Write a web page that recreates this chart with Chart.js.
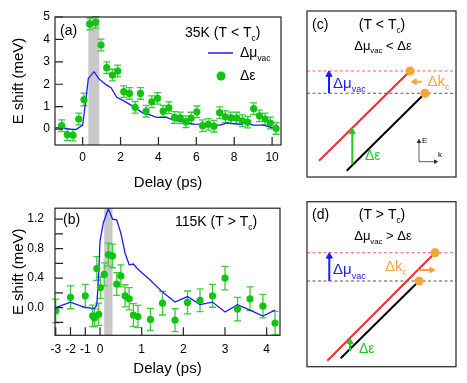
<!DOCTYPE html>
<html>
<head>
<meta charset="utf-8">
<title>E shift vs delay</title>
<script src="https://cdn.jsdelivr.net/npm/chart.js@4.4.1/dist/chart.umd.min.js"></script>
<style>
  body { margin: 0; background: #fff; }
  .panel { position: absolute; }
</style>
</head>
<body>
<div class="panel" style="left:0;top:0;width:300px;height:190px"><canvas id="chartA"></canvas></div>
<div class="panel" style="left:0;top:190px;width:300px;height:193px"><canvas id="chartB"></canvas></div>
<div class="panel" style="left:300px;top:0;width:167px;height:190px"><canvas id="chartC"></canvas></div>
<div class="panel" style="left:300px;top:190px;width:167px;height:193px"><canvas id="chartD"></canvas></div>
<script>
// (a) 35K, T < Tc
var delayA = [-1.11, -0.81, -0.51, -0.21, 0.07, 0.37, 0.69, 0.97, 1.27, 1.57, 1.85, 2.17, 2.47, 2.77,
              3.05, 3.35, 3.65, 3.95, 4.25, 4.55, 4.85, 5.15, 5.45, 5.73, 6.03, 6.33, 6.63, 6.93,
              7.23, 7.53, 7.83, 8.13, 8.43, 8.71, 9.03, 9.33, 9.63, 9.91, 10.21];
var shiftA = [0.15, -0.25, -0.27, 0.45, 1.32, 4.69, 4.76, 3.75, 2.74, 2.41, 2.59, 1.67, 1.59, 0.97,
              1.59, 0.80, 1.22, 1.37, 0.80, 0.95, 0.52, 0.50, 0.33, 0.49, 0.77, 0.15, 0.21, 0.13,
              0.73, 0.55, 0.50, 0.49, 0.37, 0.31, 0.91, 0.59, 0.45, 0.27, 0.03];
var errA = [0.26, 0.26, 0.26, 0.26, 0.28, 0.26, 0.26, 0.26, 0.26, 0.26, 0.26, 0.26, 0.26, 0.26,
            0.26, 0.26, 0.26, 0.26, 0.26, 0.26, 0.26, 0.26, 0.26, 0.26, 0.26, 0.26, 0.26, 0.26,
            0.26, 0.26, 0.26, 0.26, 0.26, 0.26, 0.26, 0.26, 0.26, 0.26, 0.26];
var muDelayA = [-1.45, -1.1, -0.7, -0.35, 0.0, 0.17, 0.3, 0.6, 0.88, 1.27, 1.5, 1.8, 2.15, 2.68, 3.2,
                3.56, 3.9, 4.44, 4.79, 5.0, 5.5, 5.8, 6.38, 7.0, 7.26, 7.62, 8.32, 8.67, 9.0, 9.55, 10.0, 10.27];
var muA = [0.05, 0.07, 0.0, -0.02, 0.18, 1.3, 2.26, 2.56, 2.22, 1.96, 1.85, 1.42, 1.27, 1.0, 0.7,
           0.63, 0.52, 0.52, 0.4, 0.37, 0.3, 0.22, 0.21, 0.18, 0.18, 0.28, 0.21, 0.28, 0.18, 0.18, 0.06, 0.18];
var pumpA = [0.3, 0.88];
var ticksXA = [0, 2, 4, 6, 8, 10];
var ticksYA = [0, 1, 2, 3, 4, 5];

// (b) 115K, T > Tc
var delayB = [-3.0, -2.0, -1.0, -0.5, -0.38, -0.22, -0.09, 0.01, 0.1, 0.2, 0.3, 0.4, 0.5, 0.6, 0.7,
              0.8, 0.91, 1.21, 1.5, 1.8, 2.1, 2.4, 2.7, 3.0, 3.3, 3.6, 3.91, 4.2];
var shiftB = [-0.045, 0.14, 0.16, -0.11, -0.14, 0.53, -0.09, 0.27, 0.45, 0.72, 0.70, 0.32, 0.43, 0.16, 0.12,
              -0.10, -0.12, -0.16, 0.06, -0.17, 0.07, 0.10, 0.16, 0.40, -0.02, 0.12, 0.02, -0.21];
var errB = [0.16, 0.155, 0.155, 0.145, 0.12, 0.16, 0.15, 0.145, 0.155, 0.155, 0.16, 0.155, 0.15, 0.15, 0.15,
            0.155, 0.15, 0.15, 0.16, 0.155, 0.155, 0.155, 0.155, 0.16, 0.16, 0.16, 0.16, 0.16];
var muDelayB = [-3.0, -2.0, -1.0, -0.38, -0.22, -0.09, 0.0, 0.08, 0.2, 0.3, 0.4, 0.5, 0.6, 0.7, 0.8,
                0.91, 1.21, 1.5, 1.8, 2.1, 2.4, 2.7, 3.0, 3.3, 3.6, 3.91, 4.2];
var muB = [0.0, 0.075, 0.0, -0.01, 0.03, 0.45, 0.9, 1.15, 1.34, 1.2, 1.19, 1.01, 0.74, 0.58, 0.59,
           0.52, 0.37, 0.21, 0.075, 0.15, 0.04, 0.075, -0.06, 0.04, -0.035, -0.115, -0.035];
var pumpB = [0.1, 0.3];
var ticksXB = [-3, -2, -1, 0, 1, 2, 3, 4];
var ticksYB = [-0.2, 0, 0.2, 0.4, 0.6, 0.8, 1.0, 1.2];

// (c), (d) sketches: k to the right, E up. chemical potential levels and the two band lines
var muLevelsC = [106, 83.7];
var bandPumpedC = [[12, 16.3], [103, 106]];
var bandEqC = [[39.7, 6.3], [118, 83.7]];
var muLevelsD = [114, 85.7];
var bandPumpedD = [[20.3, 6], [128, 114]];
var bandEqD = [[33.7, 8.4], [112, 85.7]];

var FONT = '"Liberation Sans", Arial, sans-serif';
var blue = '#1c1cff', green = '#10c410', greenBar = '#3ccc3c', orange = '#f7a43a', red = '#f22a2a';
var NEG = 0.3544;   // negative delays are squeezed on the (b) axis

Chart.defaults.font.family = FONT;
Chart.defaults.color = '#000';
Chart.defaults.animation = false;

function warpB(t) { return t < 0 ? t * NEG : t; }
function same(t) { return t; }
function pts(xs, ys, f) { return xs.map(function (x, i) { return { x: f(x), y: ys[i] }; }); }

function drawRuns(ctx, runs, x, y, size, color, align) {
    var sub = size * 0.6;
    ctx.save();
    ctx.fillStyle = color || '#000';
    ctx.textBaseline = 'middle';
    ctx.textAlign = 'left';
    var w = runs.map(function (r) {
        ctx.font = (r[1] ? sub : size) + 'px ' + FONT;
        return ctx.measureText(r[0]).width;
    });
    var total = w.reduce(function (a, b) { return a + b; }, 0);
    var cx = align === 'center' ? x - total / 2 : x;
    runs.forEach(function (r, i) {
        ctx.font = (r[1] ? sub : size) + 'px ' + FONT;
        ctx.fillText(r[0], cx, r[1] ? y + size * 0.4 : y);
        cx += w[i];
    });
    ctx.restore();
}

// pump band, error bars, inward ticks, frame and labels for panels (a) and (b)
var framePlugin = {
    id: 'frame',
    beforeDatasetsDraw: function (chart, args, o) {
        var a = chart.chartArea, ctx = chart.ctx, sx = chart.scales.x, sy = chart.scales.y;
        ctx.save();
        ctx.fillStyle = '#c8c8c8';
        var x0 = sx.getPixelForValue(o.band[0]), x1 = sx.getPixelForValue(o.band[1]);
        ctx.fillRect(x0, a.top, x1 - x0, a.bottom - a.top);
        ctx.strokeStyle = greenBar;
        ctx.lineWidth = 1.3;
        chart.data.datasets.forEach(function (ds) {
            if (!ds.errs) return;
            ds.data.forEach(function (p, i) {
                var px = sx.getPixelForValue(p.x);
                var top = sy.getPixelForValue(p.y + ds.errs[i]), bot = sy.getPixelForValue(p.y - ds.errs[i]);
                ctx.beginPath();
                ctx.moveTo(px, top); ctx.lineTo(px, bot);
                ctx.moveTo(px - 3.5, top); ctx.lineTo(px + 3.5, top);
                ctx.moveTo(px - 3.5, bot); ctx.lineTo(px + 3.5, bot);
                ctx.stroke();
            });
        });
        ctx.restore();
    },
    afterDraw: function (chart, args, o) {
        var a = chart.chartArea, ctx = chart.ctx, sx = chart.scales.x, sy = chart.scales.y;
        ctx.save();
        ctx.strokeStyle = '#222';
        ctx.lineWidth = 1.2;
        ctx.strokeRect(a.left, a.top, a.right - a.left, a.bottom - a.top);
        ctx.beginPath();
        sx.ticks.forEach(function (t) {
            var px = sx.getPixelForValue(t.value);
            ctx.moveTo(px, a.bottom); ctx.lineTo(px, a.bottom - 8);
        });
        sy.ticks.forEach(function (t) {
            var py = sy.getPixelForValue(t.value);
            ctx.moveTo(a.left, py); ctx.lineTo(a.left + 8, py);
        });
        ctx.stroke();
        ctx.restore();

        drawRuns(ctx, [[o.tag]], o.tagAt[0], o.tagAt[1], 14);
        drawRuns(ctx, o.title, o.titleAt[0], o.titleAt[1], 14);
        if (o.legendAt) {
            var lx = o.legendAt[0], ly = o.legendAt[1];
            var mu = chart.data.datasets[1], de = chart.data.datasets[0];
            ctx.save();
            ctx.strokeStyle = mu.borderColor;
            ctx.lineWidth = 1.5;
            ctx.beginPath(); ctx.moveTo(lx, ly); ctx.lineTo(lx + 25, ly); ctx.stroke();
            ctx.fillStyle = de.pointBackgroundColor;
            ctx.beginPath(); ctx.arc(lx + 13, ly + 23, 4.5, 0, Math.PI * 2); ctx.fill();
            ctx.restore();
            drawRuns(ctx, [['Δμ'], ['vac', 1]], lx + 32, ly, 14);
            drawRuns(ctx, [['Δε']], lx + 32, ly + 23, 14);
        }
    }
};

function dataChart(id, d) {
    return new Chart(document.getElementById(id), {
        type: 'scatter',
        data: {
            datasets: [{
                label: 'Δε',
                data: pts(d.delay, d.shift, d.warp),
                errs: d.err,
                pointRadius: 3.6,
                pointBackgroundColor: green,
                pointBorderWidth: 0
            }, {
                label: 'Δμvac',
                data: pts(d.muDelay, d.mu, d.warp),
                showLine: true,
                tension: 0,
                borderColor: blue,
                borderWidth: 1.3,
                pointRadius: 0
            }]
        },
        options: {
            responsive: true,
            maintainAspectRatio: false,
            layout: { padding: { left: 0, top: d.top, right: d.right, bottom: 0 } },
            plugins: {
                legend: { display: false },
                tooltip: { enabled: false },
                frame: d.frame
            },
            scales: {
                x: {
                    type: 'linear',
                    min: d.xmin, max: d.xmax,
                    grid: { display: false, drawTicks: false },
                    border: { display: false },
                    afterBuildTicks: function (s) { s.ticks = d.ticksX.map(function (v) { return { value: d.warp(v) }; }); },
                    afterFit: function (s) { s.height = d.xh; },
                    ticks: {
                        autoSkip: false, maxRotation: 0, padding: d.xpad,
                        font: { size: 12 },
                        callback: function (v, i) { return String(d.ticksX[i]); }
                    },
                    title: { display: true, text: 'Delay (ps)', font: { size: 15, lineHeight: 1 }, padding: { top: 0, bottom: d.titlePad } }
                },
                y: {
                    type: 'linear',
                    min: d.ymin, max: d.ymax,
                    grid: { display: false, drawTicks: false },
                    border: { display: false },
                    afterBuildTicks: function (s) { s.ticks = d.ticksY.map(function (v) { return { value: v }; }); },
                    afterFit: function (s) { s.width = 55; },
                    ticks: { padding: d.ypad, font: { size: 12 }, callback: d.yLabel },
                    title: { display: true, text: 'E shift (meV)', font: { size: 15, lineHeight: 1 }, padding: { top: 11, bottom: 0 } }
                }
            }
        },
        plugins: [framePlugin]
    });
}

dataChart('chartA', {
    delay: delayA, shift: shiftA, err: errA, muDelay: muDelayA, mu: muA, warp: same,
    ticksX: ticksXA, ticksY: ticksYA,
    xmin: -1.46, xmax: 10.47, ymin: -0.71, ymax: 5.0,
    top: 17, right: 19, xh: 45, xpad: 5, ypad: 5, titlePad: 0,
    yLabel: function (v) { return String(v); },
    frame: { band: pumpA, tag: '(a)', tagAt: [60, 31], title: [['35K (T < T'], ['c', 1], [')']], titleAt: [185, 33], legendAt: [208, 53] }
});

dataChart('chartB', {
    delay: delayB, shift: shiftB, err: errB, muDelay: muDelayB, mu: muB, warp: warpB,
    ticksX: ticksXB, ticksY: ticksYB,
    xmin: warpB(-3.05), xmax: 4.32, ymin: -0.375, ymax: 1.347,
    top: 16.7, right: 20, xh: 47.7, xpad: 7, ypad: 11, titlePad: 7,
    yLabel: function (v) { return Math.round(v * 10) % 4 === 0 ? v.toFixed(1) : ''; },
    frame: { band: pumpB, tag: '(b)', tagAt: [63, 30], title: [['115K (T > T'], ['c', 1], [')']], titleAt: [175, 31.7] }
});

// sketches (c) and (d)
function pt(p) { return { x: p[0], y: p[1] }; }
function lineSet(data, color, width, dash) {
    return { data: data, showLine: true, tension: 0, borderColor: color, borderWidth: width, borderDash: dash || [], pointRadius: 0 };
}
function arrowSet(from, to, color, width, rot, r) {
    return {
        data: [pt(from), pt(to)], showLine: true, tension: 0, borderColor: color, borderWidth: width,
        pointStyle: 'triangle', pointRadius: [0, r], pointRotation: [0, rot],
        pointBackgroundColor: color, pointBorderColor: color, pointBorderWidth: 1
    };
}

var sketchPlugin = {
    id: 'sketch',
    afterDraw: function (chart, args, o) {
        var a = chart.chartArea, ctx = chart.ctx, sx = chart.scales.x, sy = chart.scales.y;
        ctx.save();
        ctx.strokeStyle = '#333';
        ctx.lineWidth = 1.3;
        ctx.strokeRect(a.left, a.top, a.right - a.left, a.bottom - a.top);
        ctx.restore();
        o.labels.forEach(function (l) {
            drawRuns(ctx, l.runs, sx.getPixelForValue(l.at[0]), sy.getPixelForValue(l.at[1]), l.size, l.color, l.align);
        });
    }
};

function sketch(id, s) {
    var W = 149;
    var ds = [
        { data: [pt(s.pumped[1]), pt(s.eq[1])], pointRadius: 4.6, pointBackgroundColor: orange, pointBorderWidth: 0 },
        arrowSet(s.muArrow[0], s.muArrow[1], blue, 2, 0, 3.6),
        arrowSet(s.dE[0], s.dE[1], '#1ccc1c', 2, 0, 3.4),
        arrowSet(s.dk[0], s.dk[1], orange, 2, s.dkRot, 3.4),
        lineSet([pt(s.pumped[0]), pt(s.pumped[1])], red, 2),
        lineSet([pt(s.eq[0]), pt(s.eq[1])], '#000', 2),
        lineSet([{ x: 0, y: s.levels[0] }, { x: W, y: s.levels[0] }], '#ff5c5c', 1.1, [3, 2.5]),
        lineSet([{ x: 0, y: s.levels[1] }, { x: W, y: s.levels[1] }], '#555', 1.1, [3, 2.5])
    ];
    if (s.axes) {
        ds.push(arrowSet(s.axes[0], s.axes[1], '#333', 0.8, 0, 2));
        ds.push(arrowSet(s.axes[0], s.axes[2], '#333', 0.8, 90, 2));
    }
    return new Chart(document.getElementById(id), {
        type: 'scatter',
        data: { datasets: ds },
        options: {
            responsive: true,
            maintainAspectRatio: false,
            layout: { padding: { left: 7, top: s.top, right: 11, bottom: s.bottom } },
            plugins: { legend: { display: false }, tooltip: { enabled: false }, sketch: { labels: s.labels } },
            scales: {
                x: { type: 'linear', min: 0, max: W, display: false },
                y: { type: 'linear', min: 0, max: s.h, display: false }
            }
        },
        plugins: [sketchPlugin]
    });
}

sketch('chartC', {
    levels: muLevelsC, pumped: bandPumpedC, eq: bandEqC, h: 166, top: 11, bottom: 13,
    muArrow: [[22, 83.7], [22, 102.5]],
    dE: [[45.3, 12.5], [45.3, 45.3]],
    dk: [[114.7, 95.3], [107.5, 95.3]], dkRot: 270,
    axes: [[112, 15.3], [112, 35.5], [128.5, 15.3]],
    labels: [
        { runs: [['(c)']], at: [5, 152], size: 14 },
        { runs: [['(T < T'], ['c', 1], [')']], at: [75, 152], size: 14, align: 'center' },
        { runs: [['Δμ'], ['vac', 1], [' < Δε']], at: [76, 131], size: 13, align: 'center' },
        { runs: [['Δμ'], ['vac', 1]], at: [26, 93], size: 15, color: blue },
        { runs: [['Δk'], ['c', 1]], at: [120.5, 95], size: 15, color: orange },
        { runs: [['Δε']], at: [58, 21], size: 14, color: '#1ccc1c' },
        { runs: [['E']], at: [115, 36], size: 8 },
        { runs: [['k']], at: [131, 22], size: 8 }
    ]
});

sketch('chartD', {
    levels: muLevelsD, pumped: bandPumpedD, eq: bandEqD, h: 165, top: 11.7, bottom: 16.3,
    muArrow: [[22.3, 85.7], [22.3, 110.4]],
    dE: [[43, 16], [43, 24.8]],
    dk: [[111.3, 96.7], [124.6, 96.7]], dkRot: 90,
    labels: [
        { runs: [['(d)']], at: [5, 151.7], size: 14 },
        { runs: [['(T > T'], ['c', 1], [')']], at: [75, 151.7], size: 14, align: 'center' },
        { runs: [['Δμ'], ['vac', 1], [' > Δε']], at: [76, 130], size: 13, align: 'center' },
        { runs: [['Δμ'], ['vac', 1]], at: [26, 96.5], size: 15, color: blue },
        { runs: [['Δk'], ['c', 1]], at: [78, 100], size: 15, color: orange },
        { runs: [['Δε']], at: [52, 17.5], size: 14, color: '#1ccc1c' }
    ]
});
</script>
</body>
</html>
